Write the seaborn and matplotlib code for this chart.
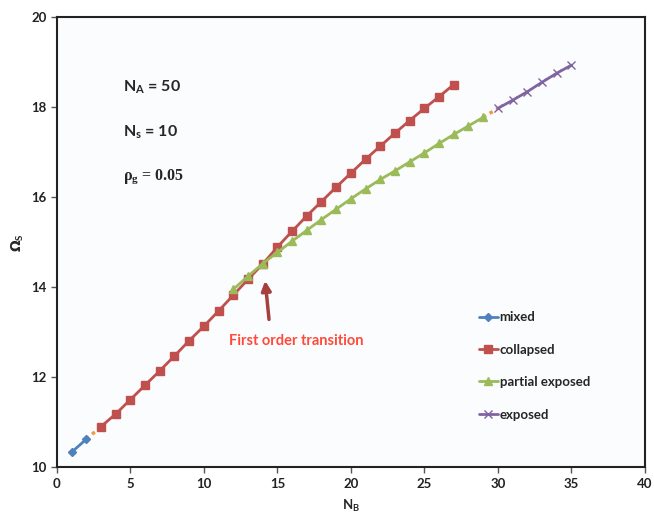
import pandas as pd
import matplotlib.pyplot as plt
import seaborn as sns

# data
nb_mixed = [1, 2]
om_mixed = [10.33, 10.62]

nb_collapsed = list(range(3, 28))
om_collapsed = [10.90, 11.18, 11.50, 11.82, 12.14, 12.47, 12.81, 13.13, 13.47, 13.82,
                14.17, 14.51, 14.89, 15.24, 15.58, 15.90, 16.22, 16.53, 16.84, 17.13,
                17.42, 17.70, 17.97, 18.23, 18.50]

nb_partial = list(range(12, 30))
om_partial = [13.95, 14.24, 14.52, 14.77, 15.02, 15.26, 15.50, 15.73, 15.96, 16.18,
              16.39, 16.58, 16.78, 16.98, 17.19, 17.39, 17.58, 17.77]

nb_exposed = [30, 31, 32, 33, 34, 35]
om_exposed = [17.97, 18.15, 18.34, 18.55, 18.75, 18.93]

# dotted connectors between phases
nb_link1 = [2, 3]
om_link1 = [10.62, 10.90]
nb_link2 = [29, 30]
om_link2 = [17.77, 17.97]

phases = ['mixed', 'collapsed', 'partial exposed', 'exposed']
colors = ['#4F81BD', '#C0504D', '#9BBB59', '#8064A2']
markers = ['D', 's', '^', 'x']
msizes = [4, 5.5, 5.5, 5.5]

sns.set_style('ticks')
plt.rcParams['font.family'] = ['Lato', 'DejaVu Sans']

fig = plt.figure(figsize=(6.54, 5.15), dpi=100)
ax = fig.add_axes([0.087, 0.093, 0.899, 0.874])
ax.set_facecolor('#fbfcfe')

for xs, ys in [(nb_link1, om_link1), (nb_link2, om_link2)]:
    sns.lineplot(x=xs, y=ys, color='#F79646', linestyle=(0, (1, 1.2)), linewidth=2.5,
                 ax=ax)

for name, xs, ys, c, m, ms in zip(phases,
                                  [nb_mixed, nb_collapsed, nb_partial, nb_exposed],
                                  [om_mixed, om_collapsed, om_partial, om_exposed],
                                  colors, markers, msizes):
    d = pd.DataFrame({'NB': xs, 'Omega': ys})
    sns.lineplot(data=d, x='NB', y='Omega', color=c, marker=m, markersize=ms,
                 markeredgecolor=c, markeredgewidth=1, linewidth=2, label=name, ax=ax)

ax.set_xlim(0, 40)
ax.set_ylim(10, 20)
ax.set_xticks(range(0, 41, 5))
ax.set_yticks(range(10, 21, 2))
for lab in ax.get_xticklabels() + ax.get_yticklabels():
    lab.set_fontweight('bold')
    lab.set_fontsize(9.5)
    lab.set_color('#222222')
ax.tick_params(length=4, width=1, color='#555555')
for s in ax.spines.values():
    s.set_linewidth(1.5)
    s.set_color('#222222')

ax.set_xlabel(r'N$_\mathregular{B}$', fontsize=9.5, fontweight='bold', labelpad=6)
ax.set_ylabel(r'$\mathbf{\Omega}_\mathregular{S}$', fontsize=10, fontweight='bold',
              labelpad=4)

ax.text(4.5, 18.45, r'N$_\mathregular{A}$ = 50', fontsize=11.5, fontweight='bold', va='center')
ax.text(4.5, 17.45, r'N$_\mathregular{s}$ = 10', fontsize=11.5, fontweight='bold', va='center')
ax.text(4.5, 16.45, r'$\mathregular{\rho_g}$ = 0.05', fontsize=11.5, fontweight='bold',
        va='center', family='Liberation Serif')

ax.annotate('', xy=(14.15, 14.2), xytext=(14.45, 13.22),
            arrowprops=dict(arrowstyle='-|>', color='#A5403D', lw=2.5, mutation_scale=14))
ax.text(16.3, 12.8, 'First order transition', color='#FF4A3A', fontsize=10.5,
        fontweight='bold', ha='center', va='center')

handles, labels = ax.get_legend_handles_labels()
ax.legend(handles[-4:], labels[-4:], loc='center left', bbox_to_anchor=(0.697, 0.225),
          frameon=False, labelspacing=1.55, handlelength=1.5, handletextpad=0.1,
          prop={'weight': 'bold', 'size': 9.5})

fig.savefig('out.png', dpi=100)
